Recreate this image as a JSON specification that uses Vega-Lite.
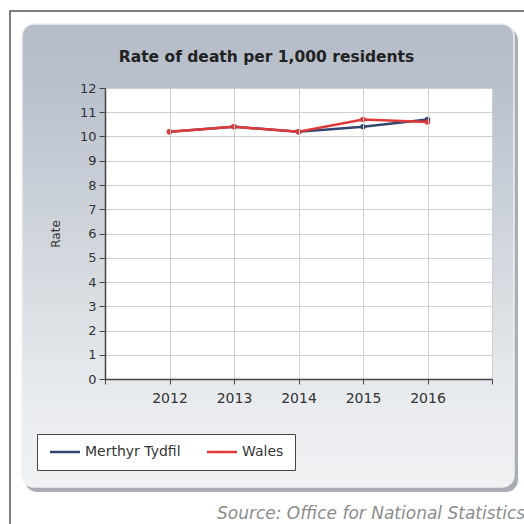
{
  "$schema": "https://vega.github.io/schema/vega-lite/v6.json",
  "width": 387,
  "height": 291,
  "autosize": {"type": "none"},
  "padding": {"left": 105, "top": 88, "right": 32, "bottom": 145},
  "background": "#ffffff",
  "config": {
    "view": {"stroke": null, "fill": "#ffffff"},
    "font": "DejaVu Sans",
    "axis": {"zindex": 1}
  },
  "layer": [
    {
      "data": {"values": [{}]},
      "mark": {"type": "rect", "filled": false, "color": "#555555", "strokeWidth": 1.5},
      "encoding": {
        "x": {"datum": 2009.527, "type": "quantitative"},
        "x2": {"datum": 2018.674},
        "y": {"datum": 15.175, "type": "quantitative"},
        "y2": {"datum": -9.113}
      }
    },
    {
      "data": {"values": [{}]},
      "mark": {"type": "rect", "color": "#8e9297", "opacity": 0.75, "cornerRadius": 12},
      "encoding": {
        "x": {"datum": 2009.76, "type": "quantitative"},
        "x2": {"datum": 2017.403},
        "y": {"datum": 14.474, "type": "quantitative"},
        "y2": {"datum": -4.66}
      }
    },
    {
      "data": {"values": [{}]},
      "mark": {
        "type": "rect",
        "cornerRadius": 12,
        "stroke": "#eef1f4",
        "strokeWidth": 1.5,
        "fill": {
          "gradient": "linear",
          "x1": 0, "y1": 0, "x2": 0, "y2": 1,
          "stops": [
            {"offset": 0, "color": "#b4bcc8"},
            {"offset": 0.15, "color": "#bac2cd"},
            {"offset": 0.5, "color": "#d3d8de"},
            {"offset": 0.8, "color": "#e8ebee"},
            {"offset": 1, "color": "#f1f2f4"}
          ]
        }
      },
      "encoding": {
        "x": {"datum": 2009.713, "type": "quantitative"},
        "x2": {"datum": 2017.341},
        "y": {"datum": 14.639, "type": "quantitative"},
        "y2": {"datum": -4.454}
      }
    },
    {
      "data": {"values": [{}]},
      "mark": {"type": "rect", "color": "#ffffff"},
      "encoding": {
        "x": {"datum": 2011, "type": "quantitative"},
        "x2": {"datum": 2017},
        "y": {"datum": 0, "type": "quantitative"},
        "y2": {"datum": 12}
      }
    },
    {
      "data": {"values": [{"heading": "Rate of death per 1,000 residents"}]},
      "mark": {
        "type": "text",
        "align": "center",
        "baseline": "alphabetic",
        "font": "DejaVu Sans",
        "fontWeight": "bold",
        "fontSize": 15.5,
        "color": "#222222"
      },
      "encoding": {
        "x": {"datum": 2013.504, "type": "quantitative"},
        "y": {"datum": 13.072, "type": "quantitative"},
        "text": {"field": "heading"}
      }
    },
    {
      "data": {
        "values": [
          {"area": "Merthyr Tydfil", "year": 2012, "rate": 10.2},
          {"area": "Merthyr Tydfil", "year": 2013, "rate": 10.4},
          {"area": "Merthyr Tydfil", "year": 2014, "rate": 10.2},
          {"area": "Merthyr Tydfil", "year": 2015, "rate": 10.4},
          {"area": "Merthyr Tydfil", "year": 2016, "rate": 10.7},
          {"area": "Wales", "year": 2012, "rate": 10.2},
          {"area": "Wales", "year": 2013, "rate": 10.4},
          {"area": "Wales", "year": 2014, "rate": 10.2},
          {"area": "Wales", "year": 2015, "rate": 10.7},
          {"area": "Wales", "year": 2016, "rate": 10.6}
        ]
      },
      "mark": {"type": "line", "strokeWidth": 2.5, "point": {"filled": true, "size": 30}},
      "encoding": {
        "x": {
          "field": "year",
          "type": "quantitative",
          "scale": {"domain": [2011, 2017], "nice": false, "zero": false},
          "axis": {
            "title": null,
            "values": [2011, 2012, 2013, 2014, 2015, 2016, 2017],
            "tickCount": 20,
            "format": "d",
            "labelExpr": "datum.value >= 2012 && datum.value <= 2016 ? datum.label : ''",
            "grid": true,
            "gridColor": "#cfcfcf",
            "domainColor": "#444444",
            "domainWidth": 1.5,
            "tickColor": "#444444",
            "tickSize": 5,
            "labelFont": "DejaVu Sans",
            "labelFontSize": 14,
            "labelColor": "#333333",
            "labelPadding": 7,
            "zindex": 1
          }
        },
        "y": {
          "field": "rate",
          "type": "quantitative",
          "scale": {"domain": [0, 12], "nice": false},
          "axis": {
            "title": "Rate",
            "titleFont": "DejaVu Sans",
            "titleFontSize": 12,
            "titleFontWeight": "normal",
            "titleColor": "#333333",
            "titlePadding": 17,
            "values": [0, 1, 2, 3, 4, 5, 6, 7, 8, 9, 10, 11, 12],
            "tickCount": 20,
            "format": "d",
            "grid": true,
            "gridColor": "#cfcfcf",
            "domainColor": "#444444",
            "domainWidth": 1.5,
            "tickColor": "#444444",
            "tickSize": 6,
            "labelFont": "DejaVu Sans",
            "labelFontSize": 13,
            "labelColor": "#333333",
            "labelPadding": 3,
            "labelOverlap": false,
            "zindex": 1
          }
        },
        "color": {
          "field": "area",
          "type": "nominal",
          "scale": {"domain": ["Merthyr Tydfil", "Wales"], "range": ["#34466e", "#e0393a"]},
          "legend": {
            "title": null,
            "orient": "none",
            "legendX": -68,
            "legendY": 346,
            "direction": "horizontal",
            "fillColor": "#ffffff",
            "strokeColor": "#444444",
            "padding": 11,
            "symbolType": "M-3,0H3",
            "symbolSize": 100,
            "symbolStrokeWidth": 2.5,
            "symbolOffset": 10,
            "labelOffset": 13,
            "columnPadding": 21,
            "labelFont": "DejaVu Sans",
            "labelFontSize": 14,
            "labelColor": "#333333"
          }
        }
      }
    },
    {
      "data": {"values": [{"note": "Source: Office for National Statistics"}]},
      "mark": {
        "type": "text",
        "align": "left",
        "baseline": "alphabetic",
        "font": "DejaVu Sans",
        "fontStyle": "italic",
        "fontSize": 17,
        "color": "#8c8c8c"
      },
      "encoding": {
        "x": {"datum": 2012.736, "type": "quantitative"},
        "y": {"datum": -5.773, "type": "quantitative"},
        "text": {"field": "note"}
      }
    }
  ]
}
